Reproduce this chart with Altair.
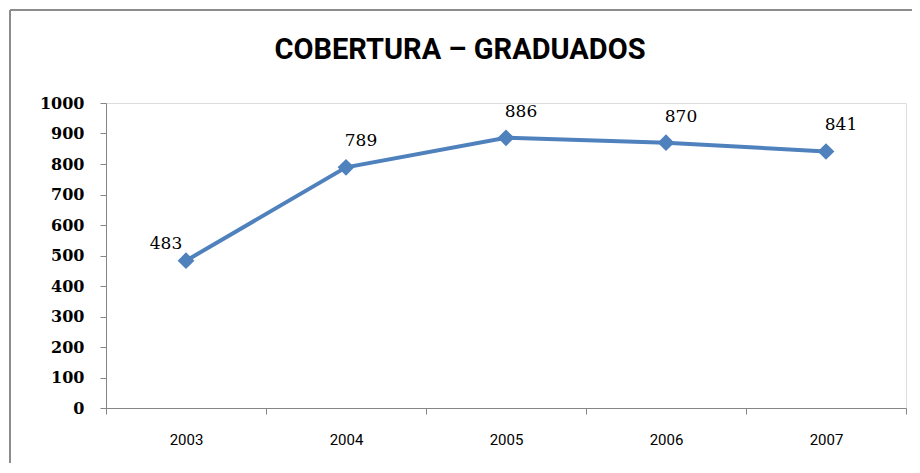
import altair as alt
import pandas as pd

years = ["2003", "2004", "2005", "2006", "2007"]
values = [483, 789, 886, 870, 841]
y_ticks = [0, 100, 200, 300, 400, 500, 600, 700, 800, 900, 1000]
title_text = "COBERTURA – GRADUADOS"

df = pd.DataFrame({"year": years, "value": values})

BLUE = "#4F81BD"
GRAY = "#868686"
NARROW = "'Liberation Sans Narrow', Roboto, sans-serif"

x_enc = alt.X(
    "year:N",
    sort=years,
    scale=alt.Scale(type="band", paddingInner=0, paddingOuter=0),
    axis=alt.Axis(
        title=None, labelAngle=0, tickBand="extent", ticks=True, tickSize=6,
        domainColor=GRAY, tickColor=GRAY, labelColor="#000000",
        labelFont=NARROW, labelFontSize=15, labelPadding=18, grid=False,
    ),
)
y_enc = alt.Y(
    "value:Q",
    scale=alt.Scale(domain=[0, 1000], nice=False),
    axis=alt.Axis(
        title=None, values=y_ticks, format="d", tickSize=6, domainColor=GRAY, tickColor=GRAY,
        labelColor="#000000", labelFont="DejaVu Serif", labelFontWeight="bold",
        labelFontSize=16, labelPadding=16, grid=False,
    ),
)

base = alt.Chart(df).encode(x=x_enc, y=y_enc)

line = base.mark_line(color=BLUE, strokeWidth=4).encode()
points = base.mark_point(shape="diamond", filled=True, color=BLUE, size=280, opacity=1)

labels_rest = base.transform_filter(alt.datum.year != years[0]).mark_text(
    font="DejaVu Serif", fontSize=17, color="#000000", dx=15, dy=-26, baseline="middle"
).encode(text="value:Q")
labels_first = base.transform_filter(alt.datum.year == years[0]).mark_text(
    font="DejaVu Serif", fontSize=17, color="#000000", dx=-20, dy=-17, baseline="middle"
).encode(text="value:Q")

border_top = alt.Chart(df).mark_rule(color="#8c8c8c", strokeWidth=2).encode(
    x=alt.value(-96), x2=alt.value(820), y=alt.value(-93)
)
border_left = alt.Chart(df).mark_rule(color="#8c8c8c", strokeWidth=2).encode(
    x=alt.value(-96), y=alt.value(-93), y2=alt.value(380)
)
title = alt.Chart(pd.DataFrame({"t": [title_text]})).mark_text(
    font=NARROW, fontSize=29, fontWeight="bold", color="#000000",
    align="center", baseline="middle",
).encode(text="t:N", x=alt.value(354), y=alt.value(-53))

chart = alt.layer(border_top, border_left, title, line, points, labels_rest, labels_first).properties(
    width=800,
    height=305,
    autosize=alt.AutoSizeParams(type="none"),
    padding={"left": 98, "top": 95, "right": 6, "bottom": 55},
).configure_view(stroke=None).configure(background="#ffffff")

chart.save("out.html", embed_options={"renderer": "svg", "actions": False})
